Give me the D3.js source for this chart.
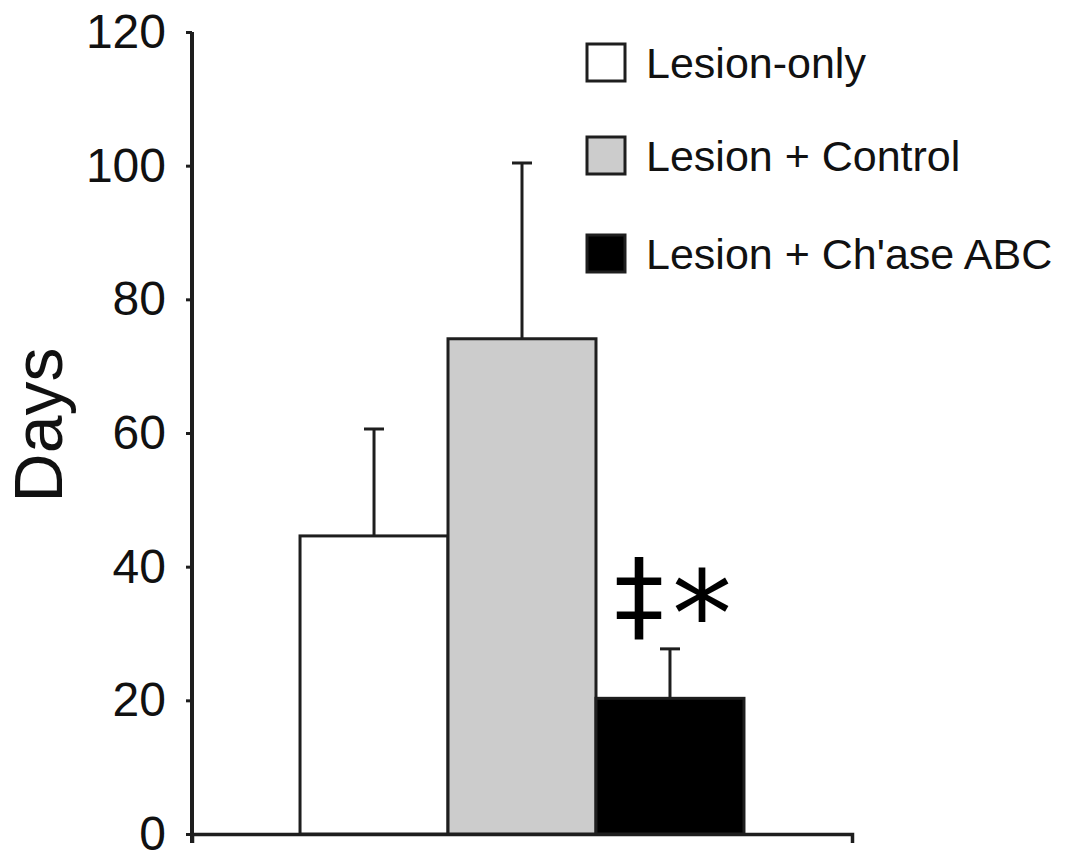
<!DOCTYPE html>
<html>
<head>
<meta charset="utf-8">
<script src="https://cdn.jsdelivr.net/npm/d3@7"></script>
<style>
  html, body { margin: 0; padding: 0; background: #fff; }
  svg { display: block; font-family: "Liberation Sans", Arial, sans-serif; }
</style>
</head>
<body>
<div id="chart"></div>
<script>
// Days to recovery per treatment group
const groups = ["Lesion-only", "Lesion + Control", "Lesion + Ch'ase ABC"];
const means = [44.6, 74.1, 20.3];
const errors = [16.0, 26.3, 7.4];
const fills = ["#ffffff", "#cccccc", "#000000"];
const yTicks = [0, 20, 40, 60, 80, 100, 120];

const W = 1070, H = 863;
const INK = "#1e1e1e";

const svg = d3.select("#chart").append("svg")
    .attr("width", W)
    .attr("height", H)
    .attr("viewBox", `0 0 ${W} ${H}`);

svg.append("rect").attr("width", W).attr("height", H).attr("fill", "#fff");

const axisX = 192;
const y = d3.scaleLinear().domain([0, 120]).range([834, 32]);
const x = d3.scaleBand().domain(groups).range([axisX, 852])
    .paddingInner(0).paddingOuter(0.73);

// y axis — ticks only, the spine is drawn by hand so it can run past 0
const yAxis = svg.append("g")
    .attr("transform", `translate(${axisX},0)`)
    .call(d3.axisLeft(y).tickValues(yTicks).tickSize(6).tickPadding(20));
yAxis.select(".domain").remove();
yAxis.selectAll(".tick line").attr("stroke", INK).attr("stroke-width", 3);
yAxis.selectAll(".tick text")
    .attr("font-family", "\"Liberation Sans\", Arial, sans-serif")
    .attr("font-size", 48)
    .attr("fill", "#111");

svg.append("line")
    .attr("x1", axisX).attr("x2", axisX)
    .attr("y1", y(120)).attr("y2", y(0) + 9)
    .attr("stroke", INK).attr("stroke-width", 4);

// x axis: plain baseline with outer ticks pointing down
const xAxis = svg.append("g")
    .attr("transform", `translate(0,${y(0)})`)
    .call(d3.axisBottom(x).tickSizeInner(0).tickSizeOuter(9).tickFormat(""));
xAxis.selectAll(".tick").remove();
xAxis.select(".domain").attr("stroke", INK).attr("stroke-width", 3.5);

// error bars (upper half only) go under the bars
const errG = svg.append("g").attr("class", "errors");
groups.forEach((g, i) => {
    const cx = x(g) + x.bandwidth() / 2;
    errG.append("line")
        .attr("x1", cx).attr("x2", cx)
        .attr("y1", y(means[i])).attr("y2", y(means[i] + errors[i]))
        .attr("stroke", INK).attr("stroke-width", 3);
    errG.append("line")
        .attr("x1", cx - 10).attr("x2", cx + 10)
        .attr("y1", y(means[i] + errors[i])).attr("y2", y(means[i] + errors[i]))
        .attr("stroke", INK).attr("stroke-width", 3);
});

// bars
svg.append("g").attr("class", "bars")
    .selectAll("rect")
    .data(groups)
    .enter()
    .append("rect")
    .attr("x", (d) => x(d))
    .attr("y", (d, i) => y(means[i]))
    .attr("width", x.bandwidth())
    .attr("height", (d, i) => y(0) - y(means[i]))
    .attr("fill", (d, i) => fills[i])
    .attr("stroke", INK)
    .attr("stroke-width", 3);

// significance marks over the Ch'ase ABC bar
const sigX = x(groups[2]) + x.bandwidth() / 2;
svg.append("text")
    .attr("x", sigX - 31).attr("y", 630)
    .attr("text-anchor", "middle")
    .attr("font-family", "\"DejaVu Sans\", sans-serif")
    .attr("font-size", 100)
    .attr("fill", "#000")
    .text("\u2021");
svg.append("text")
    .attr("x", sigX + 32).attr("y", 656)
    .attr("text-anchor", "middle")
    .attr("font-family", "\"DejaVu Sans\", sans-serif")
    .attr("font-size", 120)
    .attr("fill", "#000")
    .text("*");

// y label
svg.append("text")
    .attr("transform", "translate(62,425) rotate(-90)")
    .attr("text-anchor", "middle")
    .attr("font-size", 68)
    .attr("fill", "#111")
    .text("Days");

// legend
const legend = svg.append("g").attr("class", "legend");
const rowsY = [63, 156, 254];
groups.forEach((label, i) => {
    legend.append("rect")
        .attr("x", 587).attr("y", rowsY[i] - 19)
        .attr("width", 38).attr("height", 37)
        .attr("fill", fills[i])
        .attr("stroke", INK).attr("stroke-width", 3);
    legend.append("text")
        .attr("x", 646).attr("y", rowsY[i])
        .attr("dy", "0.35em")
        .attr("font-size", 43)
        .attr("fill", "#111")
        .text(label);
});
</script>
</body>
</html>
